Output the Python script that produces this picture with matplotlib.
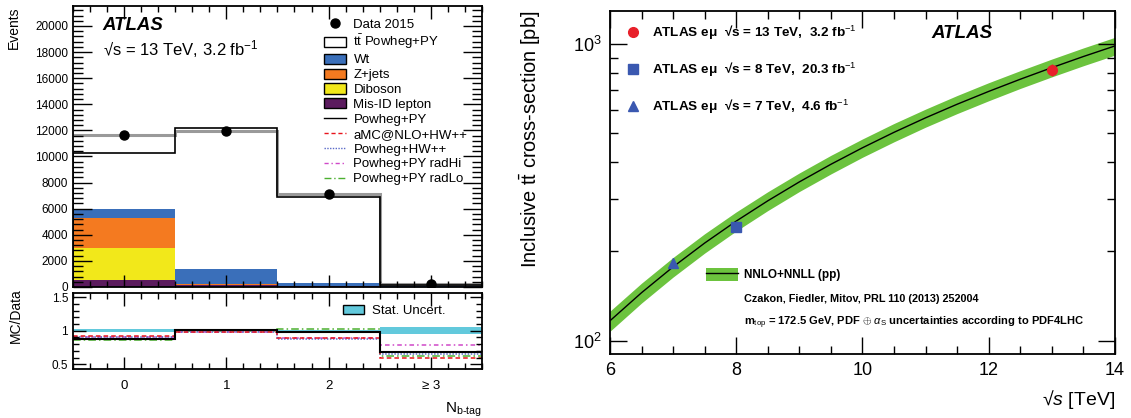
import numpy as np
import matplotlib
matplotlib.use('Agg')
import matplotlib.pyplot as plt
from matplotlib.patches import Patch
from matplotlib.lines import Line2D
from matplotlib.ticker import MultipleLocator, FixedLocator, NullFormatter, FuncFormatter

plt.rcParams['font.family'] = ['Liberation Sans', 'DejaVu Sans']
plt.rcParams['mathtext.fontset'] = 'custom'
plt.rcParams['mathtext.rm'] = 'Liberation Sans'
plt.rcParams['mathtext.it'] = 'Liberation Sans:italic'
plt.rcParams['mathtext.bf'] = 'Liberation Sans:bold'
plt.rcParams['axes.linewidth'] = 1.3

# ---- left: b-tag multiplicity ----
nbtag_labels = ['0', '1', '2', '\u2265 3']
data_2015 = [11640, 11970, 7100, 230]
ttbar = [5620, 10570, 6770, 140]
wt = [720, 1170, 220, 30]
zjets = [2300, 40, 15, 10]
diboson = [2420, 20, 5, 5]
misid = [570, 150, 90, 15]

# MC/Data ratios for each generator
r_powheg_py = [0.88, 1.015, 0.975, 0.69]
r_amc_hw = [0.915, 0.98, 0.89, 0.59]
r_powheg_hw = [0.90, 0.978, 0.875, 0.65]
r_radhi = [0.912, 0.982, 0.885, 0.78]
r_radlo = [0.865, 0.99, 1.02, 0.625]
stat_unc = [0.022, 0.008, 0.012, 0.05]

# ---- right: cross-section vs sqrt(s) ----
sqrt_s = [6, 6.5, 7, 7.5, 8, 8.5, 9, 9.5, 10, 10.5, 11, 11.5, 12, 12.5, 13, 13.5, 14]
xsec_theory = [116.7, 145.1, 177.3, 213.3, 252.9, 296.0, 342.8, 393.0, 446.7,
               503.7, 563.6, 626.3, 691.8, 760.3, 831.8, 906.9, 984.5]
xsec_unc = [0.078, 0.077, 0.076, 0.075, 0.074, 0.073, 0.072, 0.072, 0.071,
            0.071, 0.070, 0.070, 0.070, 0.069, 0.069, 0.069, 0.069]
meas_sqrt_s = [13, 8, 7]
meas_xsec = [818, 242.4, 182.9]
meas_err = [37, 10.3, 7.1]

c_wt = '#3a6fba'
c_z = '#f47a20'
c_db = '#f2e81a'
c_mis = '#5b1b5e'
c_stat = '#62c9dc'
c_green = '#6cc33e'

fig = plt.figure(figsize=(11.31, 4.18), dpi=100)
ax = fig.add_axes([0.0645, 0.3134, 0.3616, 0.6722])
axr = fig.add_axes([0.0645, 0.1172, 0.3616, 0.1818], sharex=ax)
ax2 = fig.add_axes([0.5393, 0.1531, 0.4465, 0.8213])

edges = np.arange(len(data_2015) + 1) - 0.5
centers = np.arange(len(data_2015))

# stacked backgrounds + ttbar
base = np.zeros(len(data_2015))
for vals, col in [(misid, c_mis), (diboson, c_db), (zjets, c_z), (wt, c_wt), (ttbar, 'white')]:
    top = base + np.array(vals)
    ax.stairs(top, edges, baseline=base, fill=True, color=col, lw=0)
    base = top
ax.stairs(base, edges, baseline=None, color='#9a9a9a', lw=2.2)
pred = np.array(r_powheg_py) * np.array(data_2015)
ax.stairs(pred, edges, baseline=0, color='black', lw=1.2)
ax.errorbar(centers, data_2015, yerr=np.sqrt(data_2015), fmt='o', color='black', ms=6.5, lw=1)

ax.set_xlim(-0.5, 3.5)
ax.set_ylim(0, 21530)
ax.yaxis.set_major_locator(MultipleLocator(2000))
ax.yaxis.set_minor_locator(MultipleLocator(400))
ax.set_ylabel('Events', fontsize=10, loc='top')
ax.yaxis.set_label_coords(-0.128, 1.0)

ax.text(0.073, 0.932, 'ATLAS', transform=ax.transAxes, fontsize=13.4,
        fontweight='bold', fontstyle='italic', va='center')
ax.text(0.073, 0.847, '\u221As = 13 TeV, 3.2 fb$^{-1}$', transform=ax.transAxes,
        fontsize=12, va='center')

handles = [
    Line2D([], [], marker='o', color='black', ls='none', ms=6.5),
    Patch(facecolor='white', edgecolor='black', lw=1),
    Patch(facecolor=c_wt, edgecolor='black', lw=1),
    Patch(facecolor=c_z, edgecolor='black', lw=1),
    Patch(facecolor=c_db, edgecolor='black', lw=1),
    Patch(facecolor=c_mis, edgecolor='black', lw=1),
    Line2D([], [], color='black', lw=1),
    Line2D([], [], color='#e8141c', lw=1, ls=(0, (3, 2))),
    Line2D([], [], color='#5a6ac8', lw=1, ls=(0, (1, 1))),
    Line2D([], [], color='#d048c8', lw=1, ls=(0, (3, 2, 1, 2))),
    Line2D([], [], color='#4cb030', lw=1, ls=(0, (5, 2, 1, 2))),
]
labels = ['Data 2015', r't$\bar{\mathrm{t}}$ Powheg+PY', 'Wt', 'Z+jets', 'Diboson',
          'Mis-ID lepton', 'Powheg+PY', 'aMC@NLO+HW++', 'Powheg+HW++',
          'Powheg+PY radHi', 'Powheg+PY radLo']
ax.legend(handles, labels, loc='upper left', bbox_to_anchor=(0.615, 0.957), frameon=False,
          fontsize=9.5, handlelength=1.6, handleheight=0.8, handletextpad=0.6,
          labelspacing=0.17, borderpad=0, borderaxespad=0)

# ratio panel
r_unc = np.array(stat_unc)
axr.stairs(1 + r_unc, edges, baseline=1 - r_unc, fill=True, color=c_stat, lw=0)
axr.stairs(r_radlo, edges, baseline=None, color='#4cb030', lw=1.1, ls=(0, (5, 2, 1, 2)))
axr.stairs(r_radhi, edges, baseline=None, color='#d048c8', lw=1.1, ls=(0, (3, 2, 1, 2)))
axr.stairs(r_powheg_hw, edges, baseline=None, color='#5a6ac8', lw=1.1, ls=(0, (1, 1)))
axr.stairs(r_amc_hw, edges, baseline=None, color='#e8141c', lw=1.1, ls=(0, (3, 2)))
axr.stairs(r_powheg_py, edges, baseline=None, color='black', lw=1.5)
axr.set_ylim(0.43, 1.56)
axr.yaxis.set_major_locator(FixedLocator([0.5, 1.0, 1.5]))
axr.yaxis.set_minor_locator(MultipleLocator(0.1))
axr.yaxis.set_major_formatter(FuncFormatter(lambda v, p: f'{v:g}'))
axr.set_ylabel('MC/Data', fontsize=10)
axr.yaxis.set_label_coords(-0.122, 0.70)
axr.legend([Patch(facecolor=c_stat, edgecolor='black', lw=1)], ['Stat. Uncert.'],
           loc='upper left', bbox_to_anchor=(0.66, 0.84), frameon=False, fontsize=9.5,
           handlelength=1.6, handletextpad=0.6, borderpad=0, borderaxespad=0)

axr.set_xticks(centers)
axr.set_xticklabels(nbtag_labels)
axr.xaxis.set_minor_locator(MultipleLocator(1 / 6))
axr.set_xlabel(r'N$_{\mathrm{b\text{-}tag}}$', fontsize=11, loc='right', labelpad=6)
plt.setp(ax.get_xticklabels(), visible=False)

for a in (ax, axr):
    a.tick_params(which='both', direction='in', top=True, right=True)
    a.tick_params(axis='y', labelsize=8.5)
    a.tick_params(axis='x', labelsize=9.5, pad=8)
ax.tick_params(axis='y', which='major', length=14, width=1)
ax.tick_params(axis='y', which='minor', length=7, width=1)
ax.tick_params(axis='x', which='major', length=9, width=1)
ax.tick_params(axis='x', which='minor', length=4.5, width=1)
axr.tick_params(which='major', length=9, width=1)
axr.tick_params(which='minor', length=4.5, width=1)
ax.xaxis.set_minor_locator(MultipleLocator(1 / 6))

# ---- right panel ----
xs = np.array(sqrt_s, dtype=float)
th = np.array(xsec_theory)
unc = np.array(xsec_unc)
ax2.fill_between(xs, th * (1 - unc), th * (1 + unc), color=c_green, lw=0)
ax2.plot(xs, th, color='black', lw=1)
ax2.errorbar(meas_sqrt_s[0], meas_xsec[0], yerr=meas_err[0], fmt='o', color='#e8202a', ms=7, lw=1)
ax2.errorbar(meas_sqrt_s[1], meas_xsec[1], yerr=meas_err[1], fmt='s', color='#3a58b0', ms=6.5, lw=1)
ax2.errorbar(meas_sqrt_s[2], meas_xsec[2], yerr=meas_err[2], fmt='^', color='#3a58b0', ms=7, lw=1)
ax2.set_yscale('log')
ax2.set_xlim(6, 14)
ax2.set_ylim(90.2, 1294)
ax2.xaxis.set_major_locator(MultipleLocator(2))
ax2.xaxis.set_minor_locator(MultipleLocator(0.5))
ax2.yaxis.set_minor_formatter(NullFormatter())
ax2.tick_params(which='both', direction='in', top=True, right=True, width=1)
ax2.tick_params(which='major', length=12, labelsize=13, pad=6)
ax2.tick_params(which='minor', length=5.5)
ax2.set_ylabel(r'Inclusive t$\bar{\mathrm{t}}$ cross-section [pb]', fontsize=14.4, loc='top')
ax2.yaxis.set_label_coords(-0.132, 1.0)
ax2.set_xlabel('\u221A$s$ [TeV]', fontsize=14, loc='right', labelpad=6)

ax2.text(0.6356, 0.934, 'ATLAS', transform=ax2.transAxes, fontsize=13.5,
         fontweight='bold', fontstyle='italic', va='center')

meas_handles = [
    Line2D([], [], marker='o', color='#e8202a', ls='none', ms=7),
    Line2D([], [], marker='s', color='#3a58b0', ls='none', ms=6.5),
    Line2D([], [], marker='^', color='#3a58b0', ls='none', ms=7),
]
meas_labels = ['ATLAS e\u03bc  \u221As = 13 TeV,  3.2 fb$^{-1}$',
               'ATLAS e\u03bc  \u221As = 8 TeV,  20.3 fb$^{-1}$',
               'ATLAS e\u03bc  \u221As = 7 TeV,  4.6 fb$^{-1}$']
leg1 = ax2.legend(meas_handles, meas_labels, loc='upper left', bbox_to_anchor=(0.0297, 0.962),
                  frameon=False, handlelength=1.2, handletextpad=0.78, labelspacing=1.38,
                  borderpad=0, borderaxespad=0, prop={'weight': 'bold', 'size': 9.7})
ax2.add_artist(leg1)

th_handle = (Patch(facecolor=c_green, lw=0), Line2D([], [], color='black', lw=1))
ax2.legend([th_handle], ['NNLO+NNLL (pp)'], loc='center left', bbox_to_anchor=(0.19, 0.231),
           frameon=False, handlelength=2.68, handleheight=1.35, handletextpad=0.56,
           borderpad=0, borderaxespad=0, prop={'weight': 'bold', 'size': 8.5})
ax2.text(0.2659, 0.1602, 'Czakon, Fiedler, Mitov, PRL 110 (2013) 252004', transform=ax2.transAxes,
         fontsize=7.8, fontweight='bold', va='center')
ax2.text(0.2659, 0.0923, r'm$_{\mathrm{top}}$ = 172.5 GeV, PDF $\oplus$ $\alpha_{\mathrm{S}}$ uncertainties according to PDF4LHC',
         transform=ax2.transAxes, fontsize=8, fontweight='bold', va='center')

fig.savefig('out.png', dpi=100)
